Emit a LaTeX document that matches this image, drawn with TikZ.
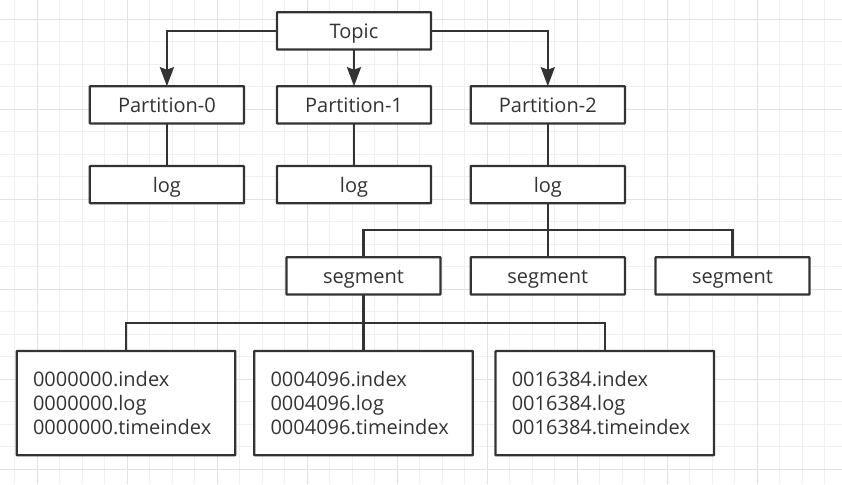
\documentclass[tikz,border=0pt]{standalone}
\usepackage{fontspec}
\setmainfont{Open Sans}
\usetikzlibrary{arrows.meta}
\definecolor{ink}{HTML}{333333}
\definecolor{gridminor}{HTML}{F0F0F0}
\definecolor{gridmajor}{HTML}{E2E2E2}
\tikzset{
  basebox/.style={draw=ink, line width=2.25pt, fill=white, text=ink, inner sep=0pt, outer sep=0pt,
    rounded corners=0.6pt, font=\fontsize{20pt}{24pt}\selectfont},
  box/.style={basebox, minimum width=154.2pt, minimum height=37.3pt, text height=15pt, text depth=0pt},
  filebox/.style={basebox, minimum width=218.6pt, minimum height=104.3pt, text width=186pt, align=left},
  link/.style={draw=ink, line width=2.25pt},
  arr/.style={link, -{Stealth[length=19pt, width=14pt, inset=2.5pt]}}
}
\begin{document}
\begin{tikzpicture}[x=1pt, y=-1pt]
\useasboundingbox (0,0) rectangle (842,484);
\fill[white] (0,0) rectangle (842,484);
% grid
\foreach \k in {0,...,36} {\draw[gridminor, line width=1pt] ({14.8+22.5*\k},0) -- ({14.8+22.5*\k},484);}
\foreach \k in {0,...,20} {\draw[gridminor, line width=1pt] (0,{19.3+22.5*\k}) -- (842,{19.3+22.5*\k});}
\foreach \k in {0,...,8} {\draw[gridmajor, line width=1pt] ({37.3+90*\k},0) -- ({37.3+90*\k},484);}
\foreach \k in {0,...,5} {\draw[gridmajor, line width=1pt] (0,{19.3+90*\k}) -- (842,{19.3+90*\k});}

% nodes
\node[box] (topic) at (354,30.85) {Topic};
\node[box] (p0) at (166.9,104.85) {Partition-0};
\node[box] (p1) at (354,104.85) {Partition-1};
\node[box] (p2) at (547.8,104.85) {Partition-2};
\node[box] (log0) at (166.9,184.65) {log};
\node[box] (log1) at (354,184.65) {log};
\node[box] (log2) at (547.8,184.65) {log};
\node[box] (seg1) at (363.5,275.85) {segment};
\node[box] (seg2) at (547.8,275.85) {segment};
\node[box] (seg3) at (732.5,275.85) {segment};
\node[filebox] (f1) at (126,403.15) {0000000.index\\0000000.log\\0000000.timeindex};
\node[filebox] (f2) at (363.5,403.15) {0004096.index\\0004096.log\\0004096.timeindex};
\node[filebox] (f3) at (604.8,403.15) {0016384.index\\0016384.log\\0016384.timeindex};

\coordinate (bus1) at (547.8,230.3);
\coordinate (bus2) at (363.5,323.3);

% connectors
\draw[arr] (topic.west) -| (p0.north);
\draw[arr] (topic.south) -- (p1.north);
\draw[arr] (topic.east) -| (p2.north);
\draw[link] (p0.south) -- (log0.north);
\draw[link] (p1.south) -- (log1.north);
\draw[link] (p2.south) -- (log2.north);
\draw[link] (log2.south) -- (seg2.north);
\draw[link] (seg1.north) |- (bus1) -| (seg3.north);
\draw[link] (seg1.south) -- (f2.north);
\draw[link] (f1.north) |- (bus2) -| (f3.north);
\end{tikzpicture}
\end{document}
